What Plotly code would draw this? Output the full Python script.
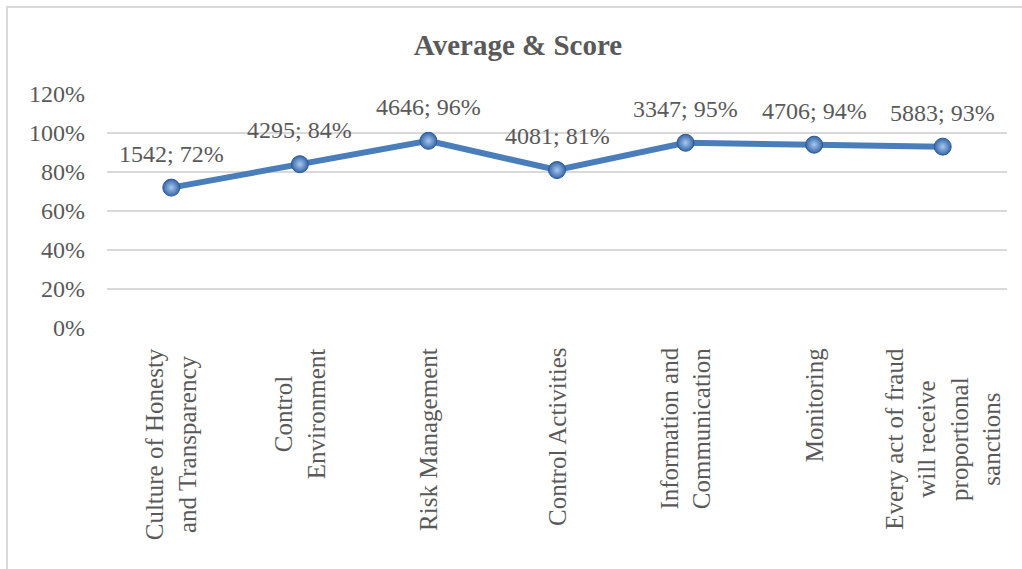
import plotly.graph_objects as go

categories = [
    "Culture of Honesty<br>and Transparency",
    "Control<br>Environment",
    "Risk Management",
    "Control Activities",
    "Information and<br>Communication",
    "Monitoring",
    "Every act of fraud<br>will receive<br>proportional<br>sanctions",
]
averages = [1542, 4295, 4646, 4081, 3347, 4706, 5883]
scores = [0.72, 0.84, 0.96, 0.81, 0.95, 0.94, 0.93]
y_ticks = [0, 0.2, 0.4, 0.6, 0.8, 1.0, 1.2]

FONT = "Liberation Serif"
GRAY = "#595959"

xs = list(range(len(categories)))

fig = go.Figure()
fig.add_trace(go.Scatter(
    x=xs, y=scores, mode="lines+markers",
    line=dict(color="#4a7ebb", width=6),
    marker=dict(size=17, color="#3566a8",
                gradient=dict(type="radial", color="#a8c8ef"),
                line=dict(color="#2c5a94", width=1)),
    hoverinfo="skip", showlegend=False,
))

annotations = []
for x, a, s in zip(xs, averages, scores):
    annotations.append(dict(
        x=x, y=s, xref="x", yref="y", text=f"{a}; {round(s*100)}%",
        showarrow=False, xanchor="center", yanchor="middle", yshift=34,
        font=dict(family=FONT, size=24, color=GRAY),
    ))
for x, c in zip(xs, categories):
    annotations.append(dict(
        x=x, y=0, xref="x", yref="paper", text=c, showarrow=False,
        textangle=-90, align="center", xanchor="center", yanchor="top",
        yshift=-18, font=dict(family=FONT, size=25, color=GRAY),
    ))

W, H = 1022, 569
L, R, T, B = 107, 15, 94, 241
pw, ph = W - L - R, H - T - B

def px_x(p):
    return (p - L) / pw

def px_y(p):
    return (H - B - p) / ph

fig.add_shape(type="rect", xref="paper", yref="paper",
              x0=px_x(7), x1=px_x(1030), y0=px_y(580), y1=px_y(7),
              line=dict(color="#d9d9d9", width=2), fillcolor="rgba(0,0,0,0)",
              layer="below")

fig.update_layout(
    width=W, height=H,
    margin=dict(l=L, r=R, t=T, b=B),
    paper_bgcolor="white", plot_bgcolor="white",
    title=dict(text="<b>Average & Score</b>", x=518 / W, xref="container",
               y=1 - 45 / H, yref="container", xanchor="center", yanchor="middle",
               font=dict(family=FONT, size=29, color=GRAY)),
    annotations=annotations,
    xaxis=dict(range=[-0.5, len(categories) - 0.5], showticklabels=False,
               showgrid=False, zeroline=False, showline=False, ticks=""),
    yaxis=dict(range=[0, 1.2], tickvals=y_ticks, tickformat=".0%",
               showgrid=True, gridcolor="#d9d9d9", gridwidth=1.5,
               zeroline=False, showline=False, ticks="",
               ticklabelstandoff=21,
               tickfont=dict(family=FONT, size=24, color=GRAY)),
)

fig.write_html("out.html", config={"displayModeBar": False},
               post_script="document.body.style.margin='0';")
